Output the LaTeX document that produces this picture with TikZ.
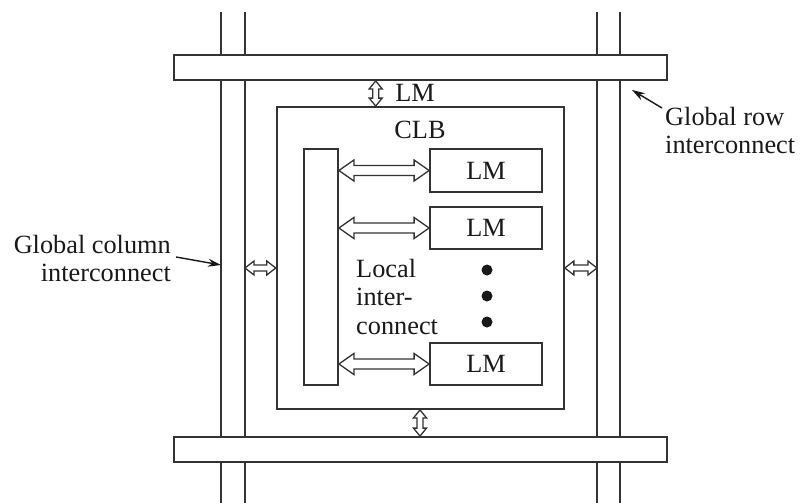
\documentclass[tikz,border=0pt]{standalone}
\usepackage{fontspec}
\setmainfont{Liberation Serif}
\usetikzlibrary{arrows.meta,calc}
\definecolor{lc}{HTML}{333333}
% hollow double-headed arrow: from, to, head length, head half-width, shaft half-width
\newcommand\hdarrow[5]{%
  \path[draw=lc, line width=1.3pt, fill=white, line join=miter]
    let \p1=(#1), \p2=(#2),
        \n1={atan2(\y2-\y1,\x2-\x1)},
        \n2={veclen(\x2-\x1,\y2-\y1)} in
    [shift={(\p1)}, rotate=\n1]
    (0,0) -- (#3,#4) -- (#3,#5) -- ({\n2-#3},#5) -- ({\n2-#3},#4) -- (\n2,0)
    -- ({\n2-#3},-#4) -- ({\n2-#3},-#5) -- (#3,-#5) -- (#3,-#4) -- cycle;}
\begin{document}
\begin{tikzpicture}[x=1pt,y=-1pt,
  every node/.style={font=\fontsize{26.3}{28.5}\selectfont, text=black!90},
  box/.style={draw=lc, line width=1.8pt, fill=white, inner sep=0pt, rectangle},
  bus/.style={draw=lc, line width=1.8pt},
  pointer/.style={draw=black!90, line width=1.4pt, -{Stealth[length=13pt,width=8pt]}},
  label/.style={inner sep=0pt}
]
\useasboundingbox (0,0) rectangle (800,503);
% global columns
\node[inner sep=0pt, outer sep=0pt, minimum width=24pt, minimum height=491pt] (lcol) at (233,257.5) {};
\node[inner sep=0pt, outer sep=0pt, minimum width=23pt, minimum height=491pt] (rcol) at (608.5,257.5) {};
\draw[bus] (lcol.north west) -- (lcol.south west) (lcol.north east) -- (lcol.south east);
\draw[bus] (rcol.north west) -- (rcol.south west) (rcol.north east) -- (rcol.south east);
% global rows
\node[box, minimum width=493pt, minimum height=25pt] (topbar) at (420.5,67.5) {};
\node[box, minimum width=493pt, minimum height=25pt] (botbar) at (420.5,449.5) {};
% CLB
\node[box, minimum width=287.3pt, minimum height=302pt] (clb) at (420.3,258) {};
\node[label] (clbt) at (420,130) {CLB};
% local interconnect
\node[box, minimum width=34pt, minimum height=236pt] (lib) at (321,267) {};
\node[box, minimum width=112pt, minimum height=43pt] (lm1) at (486,170.5) {LM};
\node[box, minimum width=112pt, minimum height=42pt] (lm2) at (486,228) {LM};
\node[box, minimum width=112pt, minimum height=42pt] (lm3) at (486,364) {LM};
\hdarrow{lib.east |- lm1.west}{lm1.west}{15}{10.5}{5}
\hdarrow{lib.east |- lm2.west}{lm2.west}{15}{10.5}{5}
\hdarrow{lib.east |- lm3.west}{lm3.west}{15}{10.5}{5}
\node[label, align=left, anchor=west] (loc) at (356,297) {Local\\inter-\\connect};
\fill[black!90] (487,270) circle (5.5pt) (487,296) circle (5.5pt) (487,322) circle (5.5pt);
% CLB to global
\coordinate (ta) at (375.7,0);
\coordinate (ba) at (420,0);
\coordinate (sa) at (0,268);
\hdarrow{topbar.south -| ta}{clb.north -| ta}{8}{6.5}{3}
\node[label] (toplm) at (415,93) {LM};
\hdarrow{clb.south -| ba}{botbar.north -| ba}{8}{6.5}{3}
\hdarrow{lcol.east |- sa}{clb.west |- sa}{9}{7}{3}
\hdarrow{clb.east |- sa}{rcol.west |- sa}{9}{7}{3}
% labels
\node[label, align=left, anchor=north west] (rowt) at (665,107) {Global row\\interconnect};
\node[label, align=right, anchor=north east] (colt) at (171,235) {Global column\\interconnect};
\coordinate (rowtail) at (662,108);
\coordinate (rowhead) at (632,90);
\coordinate (coltail) at (176,257);
\draw[pointer] (rowtail) -- (rowhead);
\draw[pointer] (coltail) -- (lcol.west |- 0,265);
\end{tikzpicture}
\end{document}
